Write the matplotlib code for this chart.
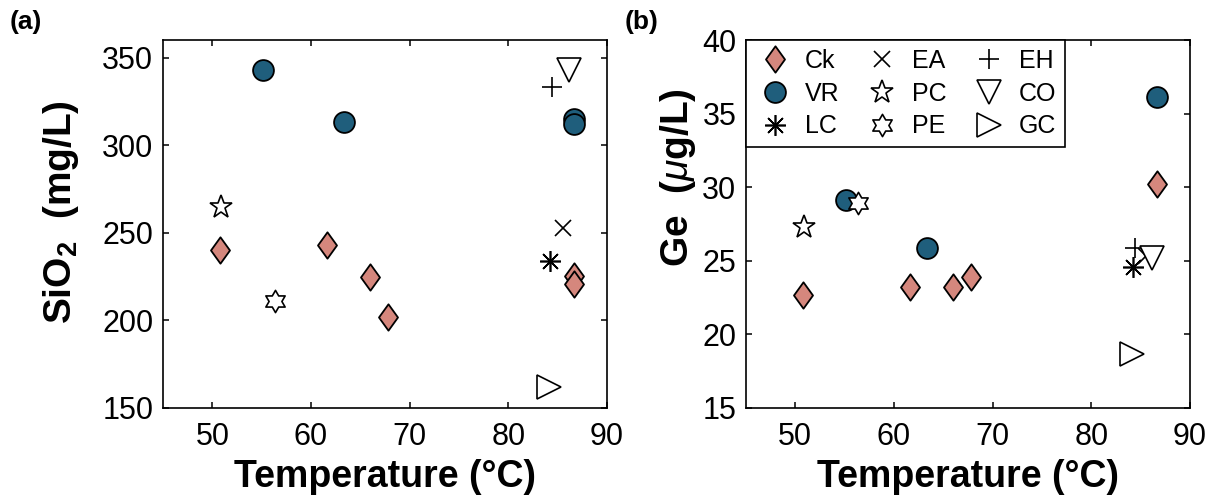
import matplotlib
matplotlib.use("Agg")
import matplotlib.pyplot as plt
from matplotlib.path import Path

plt.rcParams['font.family'] = ['Liberation Sans', 'DejaVu Sans']
plt.rcParams['mathtext.fontset'] = 'custom'
plt.rcParams['mathtext.rm'] = 'Liberation Sans'
plt.rcParams['mathtext.it'] = 'Liberation Sans:italic'
plt.rcParams['mathtext.bf'] = 'Liberation Sans:bold'

# sample temperatures (degC) and concentrations
ck_T = [50.8, 61.6, 66.0, 67.8, 86.7, 86.7]
ck_si = [240, 243, 224.5, 202, 225.5, 221]
ck_ge = [22.7, 23.2, 23.2, 23.9, 30.2]
ck_T_ge = [50.8, 61.6, 66.0, 67.8, 86.7]

vr_T = [55.1, 63.3, 86.7, 86.7]
vr_si = [343, 313, 315, 312]
vr_T_ge = [55.1, 63.3, 86.7]
vr_ge = [29.1, 25.9, 36.1]

lc_T, lc_si, lc_ge = 84.2, 234, 24.6
ea_T, ea_si, ea_ge = 85.5, 253, 25.3
pc_T, pc_si, pc_ge = 50.9, 264.5, 27.3
pe_T, pe_si, pe_ge = 56.4, 211, 28.9
eh_T, eh_si, eh_ge = 84.4, 333, 25.9
co_T, co_si, co_ge = 86.2, 343, 25.2
gc_T, gc_si, gc_ge = 84.1, 162, 18.7

ck_color = '#D5877D'
vr_color = '#1F5E7C'

diamond = Path([(0, 1), (0.72, 0), (0, -1), (-0.72, 0), (0, 1)],
               [Path.MOVETO, Path.LINETO, Path.LINETO, Path.LINETO, Path.CLOSEPOLY])
hexagram = Path.unit_regular_star(6, 0.577)
asterisk = (8, 2, 0)


def draw_panel(ax, Tck, yck, Tvr, yvr, vals, xs):
    ax.plot(Tck, yck, ls='none', marker=diamond, ms=19, mfc=ck_color, mec='k', mew=1.3, label='Ck')
    ax.plot(Tvr, yvr, ls='none', marker='o', ms=15, mfc=vr_color, mec='k', mew=1.3, label='VR')
    lc, ea, pc, pe, eh, co, gc = vals
    lcT, eaT, pcT, peT, ehT, coT, gcT = xs
    ax.plot(lcT, lc, ls='none', marker=asterisk, ms=15, mec='k', mew=1.2, label='LC')
    ax.plot(eaT, ea, ls='none', marker='x', ms=11, mec='k', mew=1.2, label='EA')
    ax.plot(pcT, pc, ls='none', marker='*', ms=17, mfc='w', mec='k', mew=1.2, label='PC')
    ax.plot(peT, pe, ls='none', marker=hexagram, ms=16, mfc='w', mec='k', mew=1.2, label='PE')
    ax.plot(ehT, eh, ls='none', marker='+', ms=15, mec='k', mew=1.2, label='EH')
    ax.plot(coT, co, ls='none', marker='v', ms=17, mfc='w', mec='k', mew=1.2, label='CO')
    ax.plot(gcT, gc, ls='none', marker='>', ms=17, mfc='w', mec='k', mew=1.2, label='GC')
    ax.set_xlim(45, 90)
    ax.set_xticks([50, 60, 70, 80, 90])
    ax.tick_params(direction='in', top=True, right=True, length=4, width=1.1,
                   labelsize=22, pad=7)
    ax.tick_params(axis='x', pad=10)
    for s in ax.spines.values():
        s.set_linewidth(1.2)
    ax.set_xlabel('Temperature (°C)', fontsize=27, fontweight='bold', labelpad=5)


fig = plt.figure(figsize=(12.12, 4.97), dpi=100)
ax1 = fig.add_axes([0.1345, 0.1791, 0.3663, 0.7404])
ax2 = fig.add_axes([0.6155, 0.1791, 0.3663, 0.7404])

Ts = [lc_T, ea_T, pc_T, pe_T, eh_T, co_T, gc_T]
draw_panel(ax1, ck_T, ck_si, vr_T, vr_si,
           [lc_si, ea_si, pc_si, pe_si, eh_si, co_si, gc_si], Ts)
ax1.set_ylim(150, 360)
ax1.set_yticks([150, 200, 250, 300, 350])
ax1.set_ylabel(r'SiO$_{\mathbf{2}}$  (mg/L)', fontsize=28, fontweight='bold')
ax1.yaxis.set_label_coords(-0.185, 0.533)

draw_panel(ax2, ck_T_ge, ck_ge, vr_T_ge, vr_ge,
           [lc_ge, ea_ge, pc_ge, pe_ge, eh_ge, co_ge, gc_ge], Ts)
ax2.set_ylim(15, 40)
ax2.set_yticks([15, 20, 25, 30, 35, 40])
ax2.set_ylabel(r'Ge  ($\mu$g/L)', fontsize=28, fontweight='bold')
ax2.yaxis.set_label_coords(-0.108, 0.625)

leg = ax2.legend(ncol=3, loc='upper left', fontsize=18, frameon=True, fancybox=False,
                 edgecolor='k', borderaxespad=0, handletextpad=0.4, columnspacing=0.9,
                 labelspacing=0.35, borderpad=0.35, handlelength=1.6)
leg.get_frame().set_linewidth(1.2)
leg.get_frame().set_alpha(1)

fig.text(0.008, 0.955, '(a)', fontsize=19, fontweight='bold', va='center')
fig.text(0.515, 0.955, '(b)', fontsize=19, fontweight='bold', va='center')

fig.savefig('out.png', dpi=100)
